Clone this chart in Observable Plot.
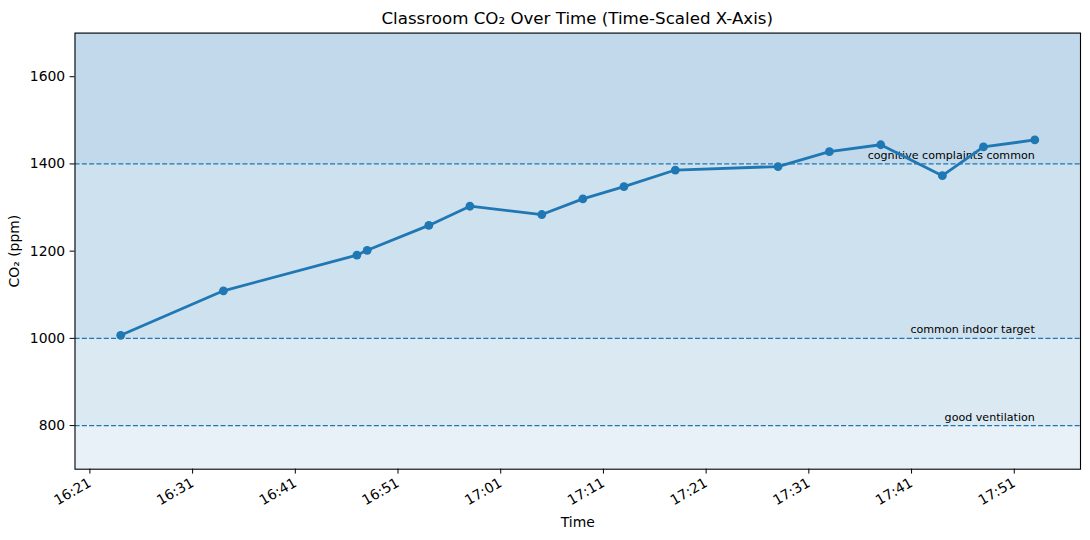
<!DOCTYPE html>
<html>
<head>
<meta charset="utf-8">
<script src="https://cdn.jsdelivr.net/npm/d3@7"></script>
<script src="https://cdn.jsdelivr.net/npm/@observablehq/plot@0.6"></script>
<style>
  html, body { margin: 0; padding: 0; background: white; }
  #wrap { width: 1090px; height: 540px; position: relative; font-family: "DejaVu Sans", sans-serif; }
  #title { position: relative; height: 28px; width: 1090px; }
  #title span { position: absolute; left: 74.5px; width: 1005.5px; top: 10.9px; text-align: center;
    font-size: 16.67px; line-height: 1; color: black; white-space: nowrap; }
  svg { display: block; }
</style>
</head>
<body>
<div id="wrap">
  <div id="title"><span>Classroom CO₂ Over Time (Time-Scaled X-Axis)</span></div>
  <div id="chart"></div>
</div>
<script>
// ---- data ----
const times = ["16:24", "16:34", "16:47", "16:48", "16:54", "16:58", "17:05", "17:09",
               "17:13", "17:18", "17:28", "17:33", "17:38", "17:44", "17:48", "17:53"];
const co2 = [1007, 1109, 1191, 1202, 1259, 1303, 1284, 1320,
             1348, 1386, 1394, 1428, 1444, 1373, 1439, 1455];

const thresholds = [800, 1000, 1400];
const thresholdLabels = ["good ventilation", "common indoor target", "cognitive complaints common"];

const bandLow = [700, 800, 1000, 1400];
const bandHigh = [800, 1000, 1400, 1700];
const bandOpacity = [0.10, 0.16, 0.22, 0.28];

const xTickLabels = ["16:21", "16:31", "16:41", "16:51", "17:01", "17:11", "17:21", "17:31", "17:41", "17:51"];
const yTicks = [800, 1000, 1200, 1400, 1600];

// ---- helpers ----
const toDate = s => new Date(Date.UTC(2024, 0, 15, +s.slice(0, 2), +s.slice(3, 5)));
const readings = times.map((t, i) => ({time: toDate(t), co2: co2[i]}));
const bands = bandLow.map((lo, i) => ({lo, hi: bandHigh[i], op: bandOpacity[i]}));
const lines = thresholds.map((v, i) => ({v, label: thresholdLabels[i]}));
const tMin = readings[0].time, tMax = readings[readings.length - 1].time;
const pad = (tMax - tMin) * 0.05;
const xDomain = [new Date(+tMin - pad), new Date(+tMax + pad)];
const lastTime = tMax;

const blue = "#1f77b4";

const chart = Plot.plot({
  width: 1090,
  height: 512,
  marginTop: 4.6,
  marginBottom: 71.3,
  marginLeft: 74.5,
  marginRight: 10,
  style: {fontFamily: "DejaVu Sans", fontSize: "13.9px", background: "white", color: "black"},
  x: {type: "utc", domain: xDomain},
  y: {domain: [700, 1700]},
  marks: [
    Plot.rect(bands, {x1: () => xDomain[0], x2: () => xDomain[1], y1: "lo", y2: "hi",
      fill: blue, fillOpacity: d => d.op}),
    Plot.ruleY(lines, {y: "v", stroke: blue, strokeWidth: 1.3, strokeDasharray: "5.1,2.2"}),
    Plot.text(lines, {x: () => lastTime, y: "v", text: "label", textAnchor: "end",
      lineAnchor: "bottom", dy: -5, fontSize: 11.1, fill: "black"}),
    Plot.line(readings, {x: "time", y: "co2", stroke: blue, strokeWidth: 2.8}),
    Plot.dot(readings, {x: "time", y: "co2", r: 4.4, fill: blue, stroke: "none"}),
    Plot.frame({stroke: "black", strokeWidth: 1.1}),
    Plot.axisY({ticks: yTicks, tickSize: 4.9, tickPadding: 4.9, tickFormat: d => String(d),
      label: "CO₂ (ppm)", labelAnchor: "center", labelArrow: "none", labelOffset: 65.5}),
    Plot.axisX({ticks: xTickLabels.map(toDate), tickFormat: d3.utcFormat("%H:%M"),
      tickSize: 4.9, tickPadding: 7.5, tickRotate: -30, textAnchor: "end",
      label: "Time", labelAnchor: "center", labelArrow: "none", labelOffset: 58})
  ]
});
document.getElementById("chart").appendChild(chart);
</script>
</body>
</html>
